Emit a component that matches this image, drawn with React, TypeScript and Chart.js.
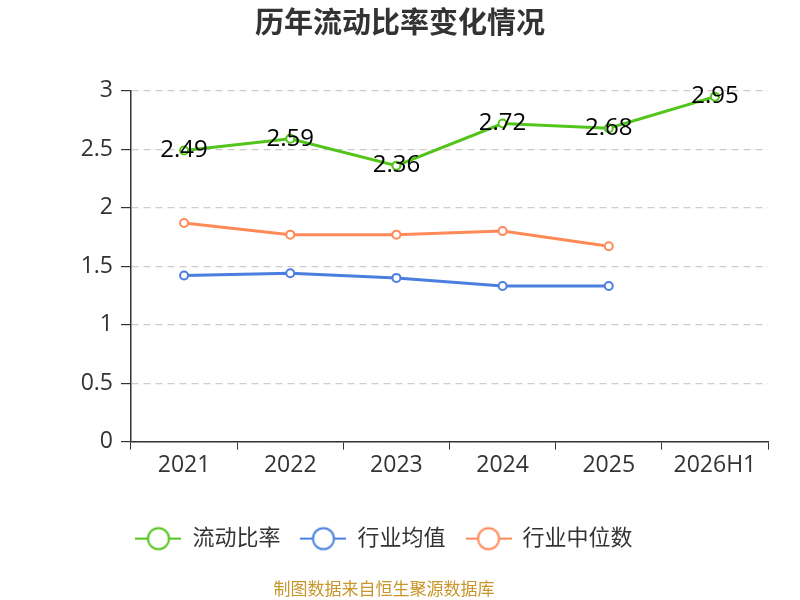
import React, { useRef, useEffect } from 'react';
import { Chart, registerables } from 'chart.js';

Chart.register(...registerables);

const years = ['2021', '2022', '2023', '2024', '2025', '2026H1'];
const currentRatio = [2.49, 2.59, 2.36, 2.72, 2.68, 2.95];
const industryAvg = [1.42, 1.44, 1.4, 1.33, 1.33, null];
const industryMedian = [1.87, 1.77, 1.77, 1.8, 1.67, null];

const GREEN = '#52c41a';
const BLUE = '#4a7fe0';
const ORANGE = '#ff8a58';
const FONT = '"Open Sans", "Noto Sans CJK SC", sans-serif';

// legend marker: line with a hollow circle in the middle
const legendMarker = (color: string) => {
  const c = document.createElement('canvas');
  c.width = 46;
  c.height = 26;
  const ctx = c.getContext('2d')!;
  ctx.strokeStyle = color;
  ctx.lineWidth = 2;
  ctx.beginPath();
  ctx.moveTo(0, 13);
  ctx.lineTo(46, 13);
  ctx.stroke();
  ctx.beginPath();
  ctx.arc(23, 13, 10.5, 0, Math.PI * 2);
  ctx.fillStyle = '#fff';
  ctx.fill();
  ctx.stroke();
  return c;
};

const valueLabels = {
  id: 'valueLabels',
  afterDatasetsDraw(chart: any) {
    const ctx = chart.ctx;
    const meta = chart.getDatasetMeta(0);
    ctx.save();
    ctx.font = `24px ${FONT}`;
    ctx.fillStyle = '#000';
    ctx.textAlign = 'center';
    ctx.textBaseline = 'middle';
    meta.data.forEach((pt: any, i: number) => {
      ctx.fillText(currentRatio[i].toFixed(2), pt.x, pt.y);
    });
    ctx.restore();
  },
};

// the title sits centred on the whole canvas, not on the padded box
const centreTitle = {
  id: 'centreTitle',
  afterLayout(chart: any) {
    if (chart.titleBlock) {
      chart.titleBlock.left += 16;
      chart.titleBlock.right += 16;
    }
  },
};

const App = () => {
  const canvasRef = useRef<any>(null);
  const chartRef = useRef<any>(null);

  useEffect(() => {
    document.body.style.margin = '0';
    if (chartRef.current) chartRef.current.destroy();

    const series = (label: string, data: any[], color: string) => ({
      label,
      data,
      borderColor: color,
      backgroundColor: '#fff',
      borderWidth: 3,
      pointRadius: 4,
      pointBorderWidth: 2,
      pointBackgroundColor: '#fff',
      pointBorderColor: color,
      pointStyle: 'circle',
      tension: 0,
    });

    chartRef.current = new Chart(canvasRef.current.getContext('2d'), {
      type: 'line',
      data: {
        labels: years,
        datasets: [
          series('流动比率', currentRatio, GREEN),
          series('行业均值', industryAvg, BLUE),
          series('行业中位数', industryMedian, ORANGE),
        ],
      },
      options: {
        responsive: false,
        animation: false,
        layout: { padding: { left: 0, right: 32, top: 0, bottom: 0 } },
        scales: {
          x: {
            offset: true,
            grid: {
              display: true,
              offset: true,
              drawOnChartArea: false,
              drawTicks: true,
              tickLength: 8,
              tickColor: '#333',
            },
            border: { color: '#333', width: 1.5 },
            ticks: { color: '#333', font: { family: FONT, size: 23 }, padding: 2 },
            afterFit: (s: any) => { s.height = 66; },
          },
          y: {
            min: 0,
            max: 3,
            ticks: {
              stepSize: 0.5,
              color: '#333',
              font: { family: FONT, size: 23 },
              padding: 8,
              callback: (v: any) => `${v}`,
            },
            grid: {
              color: '#ccc',
              tickColor: '#333',
              tickLength: 10,
              lineWidth: 1.2,
            },
            border: { color: '#333', width: 1.5, dash: [7, 5] },
            afterFit: (s: any) => { s.width = 131; },
          },
        },
        plugins: {
          title: {
            display: true,
            text: '历年流动比率变化情况',
            color: '#333',
            font: { family: FONT, size: 29, weight: 'bold' },
            padding: { top: 7, bottom: 49 },
          },
          subtitle: {
            display: true,
            position: 'bottom',
            text: '制图数据来自恒生聚源数据库',
            color: '#c8962a',
            font: { family: FONT, size: 17 },
            padding: { top: 20, bottom: 0 },
          },
          legend: {
            position: 'bottom',
            labels: {
              usePointStyle: true,
              pointStyleWidth: 46,
              color: '#333',
              font: { family: FONT, size: 22 },
              padding: 20,
              generateLabels: (chart: any) =>
                chart.data.datasets.map((ds: any, i: number) => ({
                  text: ds.label,
                  pointStyle: legendMarker(ds.borderColor),
                  fontColor: '#333',
                  strokeStyle: ds.borderColor,
                  fillStyle: '#fff',
                  lineWidth: 0,
                  hidden: false,
                  datasetIndex: i,
                })),
            },
          },
          tooltip: { enabled: false },
        },
      },
      plugins: [valueLabels, centreTitle],
    });

    return () => {
      chartRef.current.destroy();
    };
  }, []);

  return <canvas ref={canvasRef} width="800" height="600"></canvas>;
};

export default App;
